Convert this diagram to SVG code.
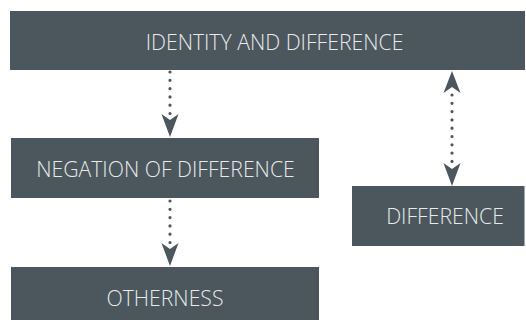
<svg xmlns="http://www.w3.org/2000/svg" width="526" height="320" viewBox="0 0 526 320">
<style>
.box{fill:#4b565d}
.lbl{font-family:"Open Sans","Noto Sans",sans-serif;font-weight:300;font-size:21.2px;fill:#e8eaeb;text-anchor:middle;dominant-baseline:central}
.dot{stroke:#4b565d;stroke-width:3.2;stroke-linecap:round;stroke-dasharray:0 8.3;fill:none}
.head{fill:#4b565d}
</style>
<rect width="526" height="320" fill="#ffffff"/>
<g id="identity"><rect class="box" x="10" y="11" width="515" height="59"/><text class="lbl" x="274.5" y="41">IDENTITY AND DIFFERENCE</text></g>
<g id="negation"><rect class="box" x="11" y="138" width="308" height="60"/><text class="lbl" x="165.5" y="168.5">NEGATION OF DIFFERENCE</text></g>
<g id="otherness"><rect class="box" x="11" y="267" width="308" height="60"/><text class="lbl" x="165" y="297">OTHERNESS</text></g>
<g id="difference"><rect class="box" x="352" y="186" width="172.5" height="60"/><text class="lbl" x="445" y="215">DIFFERENCE</text></g>
<g id="connectors">
<line class="dot" x1="170" y1="72" x2="170" y2="114"/>
<path class="head" d="M161.5,114 L170,120 L178.5,114 L170,137 Z"/>
<line class="dot" x1="170" y1="201" x2="170" y2="243"/>
<path class="head" d="M161.5,243 L170,249 L178.5,243 L170,266 Z"/>
<path class="head" d="M452,71 L460.5,93 L452,87 L443.5,93 Z"/>
<line class="dot" x1="452" y1="95" x2="452" y2="162"/>
<path class="head" d="M443.5,163 L452,169 L460.5,163 L452,186 Z"/>
</g>
</svg>
